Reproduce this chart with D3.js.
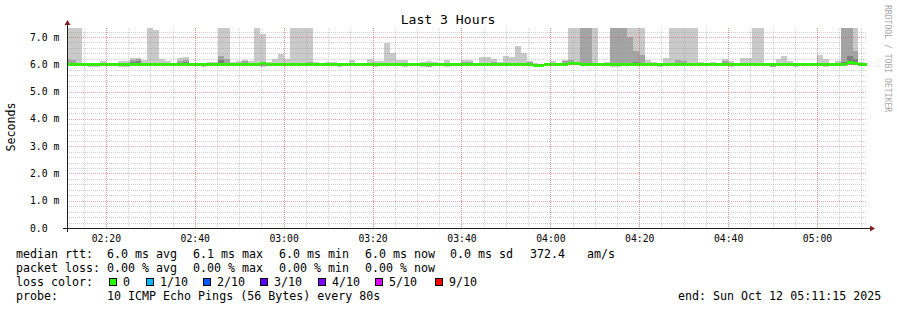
<!DOCTYPE html>
<html>
<head>
<meta charset="utf-8">
<script src="https://cdn.jsdelivr.net/npm/d3@7"></script>
<style>
  body { margin: 0; background: #fff; }
  svg text { font-family: "DejaVu Sans Mono", monospace; fill: #000; }
</style>
</head>
<body>
<svg id="chart" width="897" height="310"></svg>
<script>
// 10 pings every 80s, values in ms; one entry per step
var stepStart = Date.UTC(2025, 9, 12, 2, 10, 40),
    stepSecs = 80,
    timeStart = Date.UTC(2025, 9, 12, 2, 11, 15),
    timeEnd = Date.UTC(2025, 9, 12, 5, 11, 15);

var median = [
  6.00, 6.00, 6.00, 6.00, 6.00, 6.00, 6.00, 6.01, 6.00, 6.00,
  6.00, 6.00, 6.00, 6.00, 6.00, 6.00, 6.00, 6.00, 6.00, 6.00,
  6.00, 6.00, 6.00, 6.00, 6.00, 6.00, 6.00, 6.00, 6.00, 6.00,
  6.00, 6.00, 6.00, 6.02, 6.01, 6.00, 6.00, 6.00, 6.01, 6.00,
  6.00, 6.00, 6.00, 6.00, 6.00, 6.00, 6.00, 6.00, 6.00, 6.00,
  6.00, 6.00, 6.00, 6.00, 6.00, 6.00, 6.00, 6.00, 6.00, 6.00,
  6.00, 6.00, 6.00, 6.00, 6.00, 6.00, 6.00, 6.00, 6.00, 6.00,
  6.00, 6.00, 6.00, 6.00, 6.00, 6.00, 6.00, 6.00, 6.00, 5.95,
  5.95, 5.98, 6.00, 6.00, 6.00, 6.02, 6.03, 6.00, 6.00, 6.00,
  5.98, 5.98, 6.00, 6.00, 6.00, 6.00, 5.98, 6.00, 6.00, 6.00,
  6.00, 6.00, 6.00, 6.00, 6.00, 6.00, 6.00, 6.00, 6.00, 6.00,
  6.00, 6.00, 6.00, 5.98, 6.00, 6.00, 6.00, 6.00, 5.98, 5.98,
  6.01, 6.00, 6.00, 6.00, 6.00, 6.00, 6.00, 6.00, 6.00, 6.00,
  6.00, 6.00, 6.05, 6.03, 6.00, 6.00
];

var pingMax = [
  7.60, 7.60, 7.60, 6.05, 6.02, 6.02, 6.13, 6.06, 6.06, 6.11,
  6.11, 6.22, 6.23, 6.17, 7.60, 7.26, 6.19, 6.11, 6.05, 6.23,
  6.28, 6.05, 6.05, 6.02, 6.10, 6.10, 7.60, 7.60, 6.10, 6.13,
  6.17, 6.11, 7.60, 7.11, 6.07, 6.19, 6.38, 6.19, 7.60, 7.60,
  7.60, 7.60, 6.07, 6.05, 6.10, 6.07, 6.02, 6.04, 6.16, 6.04,
  6.02, 6.19, 6.11, 6.11, 6.78, 6.40, 6.16, 6.16, 6.04, 6.02,
  6.07, 6.11, 6.07, 6.02, 6.16, 6.05, 6.04, 6.16, 6.16, 6.00,
  6.28, 6.28, 6.19, 6.07, 6.30, 6.28, 6.68, 6.40, 6.13, 6.04,
  6.02, 6.02, 6.11, 6.02, 6.16, 7.60, 7.60, 7.60, 7.60, 7.60,
  6.04, 6.10, 7.60, 7.60, 7.60, 7.60, 7.60, 7.60, 6.16, 6.10,
  6.04, 6.23, 7.60, 7.60, 7.60, 7.60, 7.60, 6.07, 6.04, 6.10,
  6.04, 6.19, 6.11, 6.01, 6.23, 6.23, 7.60, 7.60, 6.04, 6.01,
  6.19, 6.29, 6.11, 6.04, 6.01, 6.04, 6.01, 6.34, 6.19, 6.01,
  6.11, 7.60, 7.60, 7.60, 6.10, 6.04
];

var ping9 = [
  6.20, 6.17, 6.05, 6.02, 6.01, 6.01, 6.04, 6.02, 6.02, 6.05,
  6.05, 6.17, 6.19, 6.04, 6.05, 6.04, 6.03, 6.02, 6.02, 6.12,
  6.15, 6.02, 6.02, 6.01, 6.04, 6.04, 6.32, 6.19, 6.03, 6.05,
  6.12, 6.04, 6.05, 6.03, 6.02, 6.04, 6.05, 6.04, 6.04, 6.04,
  6.04, 6.07, 6.04, 6.02, 6.03, 6.02, 6.01, 6.02, 6.05, 6.02,
  6.01, 6.04, 6.04, 6.03, 6.04, 6.04, 6.04, 6.04, 6.02, 6.01,
  6.03, 6.03, 6.02, 6.01, 6.04, 6.02, 6.02, 6.10, 6.10, 6.00,
  6.04, 6.04, 6.07, 6.03, 6.04, 6.04, 6.05, 6.04, 6.10, 5.99,
  5.98, 6.00, 6.04, 6.01, 6.13, 6.16, 6.05, 7.60, 7.60, 6.05,
  6.01, 6.02, 7.60, 7.60, 7.60, 7.00, 6.48, 6.34, 6.05, 6.03,
  6.01, 6.04, 6.05, 6.16, 6.11, 6.04, 6.04, 6.02, 6.02, 6.03,
  6.02, 6.11, 6.04, 6.00, 6.06, 6.05, 6.05, 6.05, 6.01, 6.00,
  6.05, 6.06, 6.04, 6.02, 6.01, 6.02, 6.01, 6.06, 6.05, 6.01,
  6.04, 7.60, 7.60, 6.47, 6.05, 6.02
];

var ping8 = [
  6.05, 6.03, 6.01, 6.01, 6.00, 6.00, 6.01, 6.02, 6.01, 6.01,
  6.01, 6.10, 6.12, 6.01, 6.01, 6.01, 6.01, 6.01, 6.01, 6.06,
  6.08, 6.01, 6.01, 6.00, 6.01, 6.01, 6.16, 6.05, 6.01, 6.01,
  6.03, 6.01, 6.01, 6.03, 6.02, 6.01, 6.01, 6.01, 6.02, 6.01,
  6.01, 6.02, 6.01, 6.01, 6.01, 6.01, 6.00, 6.01, 6.01, 6.01,
  6.00, 6.01, 6.01, 6.01, 6.01, 6.01, 6.01, 6.01, 6.01, 6.00,
  6.01, 6.01, 6.01, 6.00, 6.01, 6.01, 6.01, 6.04, 6.04, 6.00,
  6.01, 6.01, 6.02, 6.01, 6.01, 6.01, 6.01, 6.01, 6.03, 5.96,
  5.96, 5.99, 6.01, 6.00, 6.06, 6.08, 6.04, 6.03, 6.02, 6.01,
  5.99, 5.99, 6.02, 6.02, 6.02, 6.05, 6.08, 6.03, 6.01, 6.01,
  6.00, 6.01, 6.01, 6.06, 6.03, 6.01, 6.01, 6.01, 6.01, 6.01,
  6.01, 6.06, 6.01, 5.99, 6.01, 6.01, 6.01, 6.01, 5.99, 5.99,
  6.02, 6.01, 6.01, 6.01, 6.00, 6.01, 6.00, 6.01, 6.01, 6.00,
  6.01, 6.10, 6.29, 6.19, 6.01, 6.01
];

var ping2 = [
  5.99, 5.99, 5.99, 5.99, 5.95, 5.95, 5.99, 5.99, 5.99, 5.95,
  5.97, 5.99, 5.99, 5.99, 5.99, 5.98, 5.99, 5.98, 5.99, 5.98,
  5.99, 5.99, 5.99, 5.96, 5.99, 5.99, 5.99, 5.99, 5.99, 5.99,
  5.99, 5.99, 5.98, 5.93, 5.99, 5.99, 5.99, 5.99, 5.99, 5.99,
  5.99, 5.99, 5.99, 5.99, 5.99, 5.98, 5.94, 5.99, 5.99, 5.95,
  5.99, 5.99, 5.93, 5.96, 5.99, 5.99, 5.99, 5.95, 5.99, 5.99,
  5.95, 5.91, 5.99, 5.99, 5.95, 5.99, 5.99, 5.99, 5.99, 5.99,
  5.99, 5.99, 5.99, 5.99, 5.99, 5.99, 5.99, 5.99, 5.98, 5.93,
  5.93, 5.97, 5.99, 5.99, 5.99, 5.99, 5.99, 5.99, 5.99, 5.99,
  5.97, 5.98, 5.95, 5.96, 5.99, 5.99, 5.97, 5.99, 5.99, 5.99,
  5.95, 5.99, 5.99, 5.99, 5.99, 5.99, 5.99, 5.99, 5.99, 5.99,
  5.99, 5.99, 5.94, 5.93, 5.99, 5.99, 5.99, 5.99, 5.97, 5.91,
  5.99, 5.99, 5.99, 5.95, 5.99, 5.99, 5.99, 5.99, 5.95, 5.99,
  5.99, 5.99, 5.99, 5.99, 5.98, 5.99
];

var pingMin = [
  5.97, 5.97, 5.97, 5.96, 5.89, 5.89, 5.97, 5.97, 5.97, 5.89,
  5.91, 5.96, 5.97, 5.97, 5.97, 5.95, 5.97, 5.95, 5.97, 5.95,
  5.97, 5.97, 5.97, 5.91, 5.97, 5.97, 5.97, 5.97, 5.97, 5.97,
  5.97, 5.96, 5.95, 5.89, 5.97, 5.97, 5.97, 5.97, 5.97, 5.97,
  5.97, 5.97, 5.96, 5.97, 5.97, 5.95, 5.89, 5.96, 5.97, 5.93,
  5.97, 5.97, 5.91, 5.93, 5.97, 5.97, 5.97, 5.91, 5.97, 5.97,
  5.89, 5.89, 5.97, 5.97, 5.89, 5.97, 5.97, 5.96, 5.96, 5.97,
  5.97, 5.97, 5.96, 5.97, 5.97, 5.97, 5.97, 5.97, 5.95, 5.91,
  5.90, 5.95, 5.97, 5.97, 5.97, 5.97, 5.97, 5.97, 5.97, 5.97,
  5.95, 5.97, 5.91, 5.91, 5.97, 5.97, 5.95, 5.97, 5.97, 5.97,
  5.91, 5.97, 5.97, 5.97, 5.97, 5.97, 5.97, 5.96, 5.96, 5.97,
  5.97, 5.96, 5.91, 5.93, 5.97, 5.97, 5.97, 5.97, 5.96, 5.89,
  5.97, 5.97, 5.96, 5.91, 5.97, 5.97, 5.97, 5.97, 5.91, 5.97,
  5.97, 5.97, 5.97, 5.96, 5.95, 5.97
];

var yTicks = [0, 1, 2, 3, 4, 5, 6, 7];
var lossLabels = ["0", "1/10", "2/10", "3/10", "4/10", "5/10", "9/10"],
    lossColors = ["#26ff00", "#00b8ff", "#0059ff", "#5e00ff", "#7e00ff", "#dd00ff", "#ff0000"];
var rttStats = ["6.0 ms avg", "6.1 ms max", "6.0 ms min", "6.0 ms now", "0.0 ms sd"],
    lossStats = ["0.00 % avg", "0.00 % max", "0.00 % min", "0.00 % now"];

var X0 = 67, X1 = 867, Y0 = 228, Y1 = 28;
var svg = d3.select("#chart");

var x = d3.scaleUtc().domain([timeStart, timeEnd]).range([X0, X1]);
var y = d3.scaleLinear().domain([0, 7.33]).range([Y0, Y1]);

svg.append("clipPath").attr("id", "plot")
  .append("rect").attr("x", X0).attr("y", Y1).attr("width", X1 - X0).attr("height", Y0 - Y1);

// one row per step, plus a closing row so the last step gets its width
var rows = median.map(function(m, i) {
  return { t: new Date(stepStart + i * stepSecs * 1000), med: m,
           max: pingMax[i], p9: ping9[i], p8: ping8[i], p2: ping2[i], min: pingMin[i] };
});
var last = rows[rows.length - 1];
rows.push(Object.assign({}, last, { t: new Date(+last.t + stepSecs * 1000) }));

var plot = svg.append("g").attr("clip-path", "url(#plot)");

var smoke = [
  { lo: "min", hi: "max", color: "#cacaca" },
  { lo: "p2", hi: "p9", color: "#a4a4a4" },
  { lo: "med", hi: "p8", color: "#7e7e7e" }
];

smoke.forEach(function(s) {
  var area = d3.area()
    .curve(d3.curveStepAfter)
    .x(function(d) { return x(d.t); })
    .y0(function(d) { return y(d[s.lo]); })
    .y1(function(d) { return y(d[s.hi]); });
  plot.append("path")
    .datum(rows)
    .attr("d", area)
    .attr("fill", s.color)
    .attr("shape-rendering", "crispEdges");
});

// grid
var minorX = x.ticks(d3.utcMinute.every(5)),
    majorX = x.ticks(d3.utcMinute.every(20)),
    minorY = d3.range(0, 7.4, 0.2).filter(function(v) { return v <= 7.33 && Math.abs(v - Math.round(v)) > 0.01; });

var grid = svg.append("g").attr("shape-rendering", "crispEdges");
function px(v) { return Math.round(v) + 0.5; }

grid.selectAll(".hminor").data(minorY).enter().append("line")
  .attr("x1", X0).attr("x2", X1)
  .attr("y1", function(d) { return px(y(d)); }).attr("y2", function(d) { return px(y(d)); })
  .attr("stroke", "rgba(150,150,150,0.45)").attr("stroke-dasharray", "1,1");
grid.selectAll(".vminor").data(minorX).enter().append("line")
  .attr("y1", Y1).attr("y2", Y0)
  .attr("x1", function(d) { return px(x(d)); }).attr("x2", function(d) { return px(x(d)); })
  .attr("stroke", "rgba(150,150,150,0.45)").attr("stroke-dasharray", "1,1");
grid.selectAll(".hmajor").data(yTicks.slice(1)).enter().append("line")
  .attr("x1", X0).attr("x2", X1)
  .attr("y1", function(d) { return px(y(d)); }).attr("y2", function(d) { return px(y(d)); })
  .attr("stroke", "rgba(222,79,79,0.5)").attr("stroke-dasharray", "1,1");
grid.selectAll(".vmajor").data(majorX).enter().append("line")
  .attr("y1", Y1).attr("y2", Y0)
  .attr("x1", function(d) { return px(x(d)); }).attr("x2", function(d) { return px(x(d)); })
  .attr("stroke", "rgba(222,79,79,0.5)").attr("stroke-dasharray", "1,1");

// median band in loss colour
plot.append("path")
  .datum(rows)
  .attr("d", d3.area()
    .curve(d3.curveStepAfter)
    .x(function(d) { return x(d.t); })
    .y0(function(d) { return y(d.med) + 1.5; })
    .y1(function(d) { return y(d.med) - 1.5; }))
  .attr("fill", lossColors[0])
  .attr("shape-rendering", "crispEdges");

// axes
svg.append("line").attr("x1", X0 - 4).attr("x2", X1 + 4).attr("y1", Y0 + 0.5).attr("y2", Y0 + 0.5)
  .attr("stroke", "#1f1f1f");
svg.append("line").attr("x1", X0 + 0.5).attr("x2", X0 + 0.5).attr("y1", Y0 + 4).attr("y2", Y1 - 4)
  .attr("stroke", "#1f1f1f");
svg.append("path").attr("d", "M" + (X1 + 3) + "," + (Y0 - 2.5) + "L" + (X1 + 3) + "," + (Y0 + 3.5) + "L" + (X1 + 8) + "," + (Y0 + 0.5) + "Z")
  .attr("fill", "#801f1f");
svg.append("path").attr("d", "M" + (X0 - 2.5) + "," + (Y1 - 3) + "L" + (X0 + 3.5) + "," + (Y1 - 3) + "L" + (X0 + 0.5) + "," + (Y1 - 8) + "Z")
  .attr("fill", "#801f1f");

var xAxis = svg.append("g")
  .attr("transform", "translate(0," + Y0 + ")")
  .call(d3.axisBottom(x).tickValues(majorX).tickSize(0).tickPadding(7)
    .tickFormat(d3.utcFormat("%H:%M")));
xAxis.select(".domain").remove();
xAxis.selectAll("text").style("font-size", "9.75px").attr("font-family", null);

var yAxis = svg.append("g")
  .attr("transform", "translate(" + X0 + ",0)")
  .call(d3.axisLeft(y).tickValues(yTicks).tickSize(0)
    .tickFormat(function(d) { return d === 0 ? "0.0" : d3.format(".1f")(d) + " m"; }));
yAxis.select(".domain").remove();
yAxis.selectAll("text").attr("x", 30 - X0).attr("text-anchor", "start").style("font-size", "9.75px");
yAxis.attr("font-family", null);
xAxis.attr("font-family", null);

// titles
svg.append("text").attr("x", 448).attr("y", 24).attr("text-anchor", "middle")
  .style("font-size", "13.1px").text("Last 3 Hours");
svg.append("text").attr("transform", "translate(15,127) rotate(-90)").attr("text-anchor", "middle")
  .style("font-size", "11.65px").text("Seconds");
svg.append("text").attr("transform", "translate(885,5) rotate(90)")
  .style("font-size", "8.1px").style("fill", "#a8a8a8").text("RRDTOOL / TOBI OETIKER");

// legend
var cols = [107, 193, 279, 365, 450];
var legend = svg.append("g").style("font-size", "11.65px");
function line(xp, yp, s) { legend.append("text").attr("x", xp).attr("y", yp).text(s); }

line(16, 258, "median rtt:");
rttStats.forEach(function(s, i) { line(cols[i], 258, s); });
line(530, 258, "372.4");
line(587, 258, "am/s");

line(16, 272, "packet loss:");
lossStats.forEach(function(s, i) { line(cols[i], 272, s); });

line(16, 286, "loss color:");
var boxX = [109, 146, 203, 260, 318, 375, 435];
lossLabels.forEach(function(s, i) {
  legend.append("rect").attr("x", boxX[i] + 0.5).attr("y", 278.5).attr("width", 7).attr("height", 7)
    .attr("fill", lossColors[i]).attr("stroke", "#000").attr("stroke-width", 1);
  line(boxX[i] + 14, 286, s);
});

line(16, 300, "probe:");
line(107, 300, "10 ICMP Echo Pings (56 Bytes) every 80s");
line(678, 300, "end: Sun Oct 12 05:11:15 2025");
</script>
</body>
</html>
